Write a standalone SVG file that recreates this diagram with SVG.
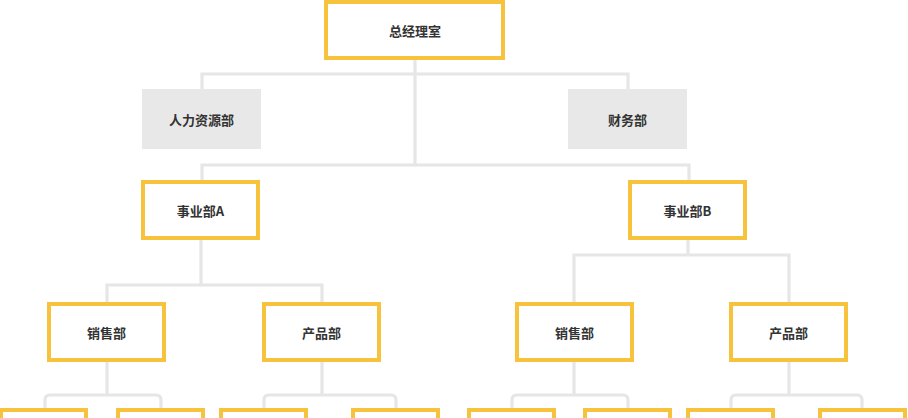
<svg xmlns="http://www.w3.org/2000/svg" width="908" height="418" viewBox="0 0 908 418">
<style>
.y{fill:#fff;stroke:#f7c23c;stroke-width:4}
.g{fill:#e8e8e8}
.c{fill:none;stroke:#e6e6e6;stroke-width:3.2}
text{font-family:"Noto Sans CJK SC","Liberation Sans",sans-serif;font-size:13px;font-weight:bold;fill:#333;text-anchor:middle;dominant-baseline:central}
</style>
<rect width="908" height="418" fill="#fff"/>
<g id="connectors">
<path class="c" d="M415,60V165M202,89V74H628V89M202,181V165H689V181"/>
<path class="c" d="M201,240V285M107,302V285H322V302"/>
<path class="c" d="M688,240V255M574,302V255H789V302"/>
<path class="c" d="M107,362V395M45,408V400Q45,395 50,395H156Q161,395 161,400V408"/>
<path class="c" d="M322,362V395M264,408V400Q264,395 269,395H391Q396,395 396,400V408"/>
<path class="c" d="M574,362V395M512,408V400Q512,395 517,395H623Q628,395 628,400V408"/>
<path class="c" d="M789,362V395M731,408V400Q731,395 736,395H857Q862,395 862,400V408"/>
</g>
<g id="n-top"><rect class="y" x="326" y="2" width="177" height="56"/><text x="415" y="30">总经理室</text></g>
<g id="n-hr"><rect class="g" x="142" y="89" width="119" height="60"/><text x="201.5" y="119">人力资源部</text></g>
<g id="n-fin"><rect class="g" x="568" y="89" width="119" height="60"/><text x="627.5" y="119">财务部</text></g>
<g id="n-a"><rect class="y" x="143" y="182" width="115" height="56"/><text x="200.5" y="210">事业部A</text></g>
<g id="n-b"><rect class="y" x="630" y="182" width="115" height="56"/><text x="687.5" y="210">事业部B</text></g>
<g id="n-a-sales"><rect class="y" x="49" y="304" width="115" height="56"/><text x="106.5" y="332">销售部</text></g>
<g id="n-a-prod"><rect class="y" x="264" y="304" width="115" height="56"/><text x="321.5" y="332">产品部</text></g>
<g id="n-b-sales"><rect class="y" x="517" y="304" width="115" height="56"/><text x="574.5" y="332">销售部</text></g>
<g id="n-b-prod"><rect class="y" x="731" y="304" width="115" height="56"/><text x="788.5" y="332">产品部</text></g>
<g id="n-l1"><rect class="y" x="1" y="410" width="85" height="56"/></g>
<g id="n-l2"><rect class="y" x="118" y="410" width="85" height="56"/></g>
<g id="n-l3"><rect class="y" x="221" y="410" width="85" height="56"/></g>
<g id="n-l4"><rect class="y" x="353" y="410" width="85" height="56"/></g>
<g id="n-l5"><rect class="y" x="469" y="410" width="85" height="56"/></g>
<g id="n-l6"><rect class="y" x="585" y="410" width="85" height="56"/></g>
<g id="n-l7"><rect class="y" x="688" y="410" width="85" height="56"/></g>
<g id="n-l8"><rect class="y" x="820" y="410" width="85" height="56"/></g>
</svg>
